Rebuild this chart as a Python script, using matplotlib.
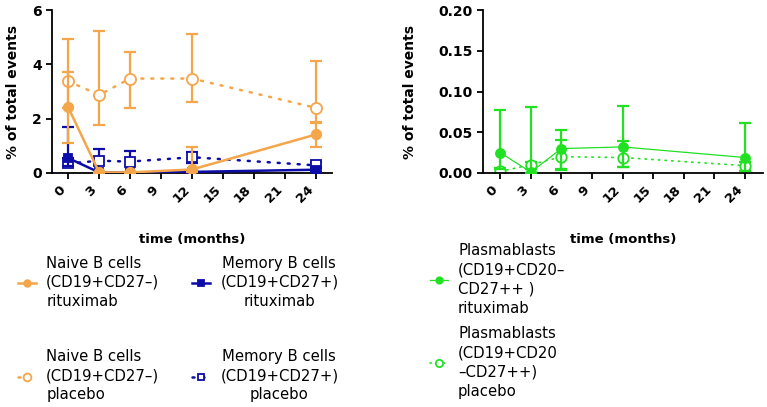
import matplotlib
matplotlib.use("Agg")
import matplotlib.pyplot as plt
import matplotlib.transforms as mtransforms

plt.rcParams['font.family'] = ['DejaVu Sans']

# data
months = [0, 3, 6, 12, 24]

naive_rtx = [2.42, 0.02, 0.02, 0.13, 1.42]
naive_rtx_lo = [1.32, 0.02, 0.02, 0.10, 0.47]
naive_rtx_hi = [1.30, 0.00, 0.00, 0.82, 0.45]
naive_pla = [3.38, 2.88, 3.48, 3.48, 2.40]
naive_pla_lo = [1.00, 1.10, 1.08, 0.86, 0.55]
naive_pla_hi = [1.57, 2.37, 0.97, 1.63, 1.72]

mem_rtx = [0.55, 0.02, 0.02, 0.04, 0.12]
mem_rtx_lo = [0.30, 0.02, 0.02, 0.04, 0.10]
mem_rtx_hi = [1.15, 0.00, 0.00, 0.05, 0.10]
mem_pla = [0.35, 0.45, 0.42, 0.58, 0.28]
mem_pla_lo = [0.10, 0.45, 0.42, 0.20, 0.10]
mem_pla_hi = [0.20, 0.45, 0.38, 0.20, 0.12]

plasma_rtx = [0.025, 0.001, 0.030, 0.032, 0.019]
plasma_rtx_lo = [0.020, 0.001, 0.025, 0.025, 0.017]
plasma_rtx_hi = [0.052, 0.080, 0.023, 0.050, 0.042]
plasma_pla = [0.002, 0.010, 0.020, 0.019, 0.009]
plasma_pla_lo = [0.002, 0.005, 0.016, 0.012, 0.006]
plasma_pla_hi = [0.004, 0.004, 0.021, 0.020, 0.004]

xticks = [0, 3, 6, 9, 12, 15, 18, 21, 24]

orange = '#F5A54A'
blue = '#0C0CA8'
green = '#22E022'

fig = plt.figure(figsize=(7.67, 4.07), dpi=100)
ax1 = fig.add_axes([0.068, 0.575, 0.365, 0.40])
ax2 = fig.add_axes([0.630, 0.575, 0.365, 0.40])

dotted = (0, (0.8, 3.2))


def series(ax, y, lo, hi, color, marker, filled, ls, lw, ms, label, z):
    ax.errorbar(months, y, yerr=[lo, hi], fmt='none', ecolor=color,
                elinewidth=1.6, capsize=4.5, capthick=1.6, zorder=z)
    line, = ax.plot(months, y, color=color, linestyle=ls, linewidth=lw,
                    marker=marker, markersize=ms,
                    markerfacecolor=color if filled else 'white',
                    markeredgecolor=color, markeredgewidth=1.3,
                    dash_capstyle='round', label=label, zorder=z + 0.5)
    return line


h_nr = series(ax1, naive_rtx, naive_rtx_lo, naive_rtx_hi, orange, 'o', True, '-', 1.8, 6.8,
              'Naive B cells\n(CD19+CD27–)\nrituximab', 5)
h_np = series(ax1, naive_pla, naive_pla_lo, naive_pla_hi, orange, 'o', False, dotted, 1.8, 8,
              'Naive B cells\n(CD19+CD27–)\nplacebo', 4)
h_mr = series(ax1, mem_rtx, mem_rtx_lo, mem_rtx_hi, blue, 's', True, '-', 1.8, 6.3,
              'Memory B cells\n(CD19+CD27+)\nrituximab', 3)
h_mp = series(ax1, mem_pla, mem_pla_lo, mem_pla_hi, blue, 's', False, dotted, 1.8, 6.5,
              'Memory B cells\n(CD19+CD27+)\nplacebo', 2)

h_pr = series(ax2, plasma_rtx, plasma_rtx_lo, plasma_rtx_hi, green, 'o', True, '-', 0.9, 6.5,
              'Plasmablasts\n(CD19+CD20–\nCD27++ )\nrituximab', 3)
h_pp = series(ax2, plasma_pla, plasma_pla_lo, plasma_pla_hi, green, 'o', False, dotted, 1.2, 7.5,
              'Plasmablasts\n(CD19+CD20\n–CD27++)\nplacebo', 2)

shift = mtransforms.ScaledTranslation(4 / 72, 0, fig.dpi_scale_trans)
for ax, xl in ((ax1, (-1.55, 25.55)), (ax2, (-1.67, 25.8))):
    ax.set_xlim(*xl)
    ax.set_xticks(xticks)
    ax.set_xticklabels([str(t) for t in xticks], rotation=45, ha='right',
                       fontsize=9.5, fontweight='bold')
    for t in ax.get_xticklabels():
        t.set_transform(t.get_transform() + shift)
    ax.spines['top'].set_visible(False)
    ax.spines['right'].set_visible(False)
    ax.spines['left'].set_linewidth(1.3)
    ax.spines['bottom'].set_linewidth(1.3)
    ax.tick_params(width=1.3, length=4)
    ax.set_xlabel('time (months)', fontsize=9.5, fontweight='bold', labelpad=20)
    ax.set_ylabel('% of total events', fontsize=10, fontweight='bold')

ax1.set_ylim(0, 6)
ax1.set_yticks([0, 2, 4, 6])
ax1.set_yticklabels(['0', '2', '4', '6'], fontweight='bold', fontsize=10)
ax2.set_ylim(0, 0.2)
ax2.set_yticks([0, 0.05, 0.10, 0.15, 0.20])
ax2.set_yticklabels(['0.00', '0.05', '0.10', '0.15', '0.20'], fontweight='bold', fontsize=10)
ax1.yaxis.set_label_coords(-0.115, 0.5)
ax2.yaxis.set_label_coords(-0.236, 0.5)

leg1 = fig.legend(handles=[h_nr, h_np, h_mr, h_mp], loc='upper left',
                  bbox_to_anchor=(0.006, 0.405), ncol=2, frameon=False,
                  fontsize=10.7, handlelength=1.2, handletextpad=0.7,
                  columnspacing=2.2, labelspacing=2.7, markerscale=0.7)
for t in leg1.get_texts():
    t.set_linespacing(1.35)
for t in leg1.get_texts()[2:]:
    t.set_multialignment('center')

leg2 = fig.legend(handles=[h_pr, h_pp], loc='upper left',
                  bbox_to_anchor=(0.543, 0.435), ncol=1, frameon=False,
                  fontsize=10.7, handlelength=1.2, handletextpad=0.7,
                  labelspacing=0.7, markerscale=0.7)
for t in leg2.get_texts():
    t.set_linespacing(1.35)

fig.savefig('out.png', dpi=100)
